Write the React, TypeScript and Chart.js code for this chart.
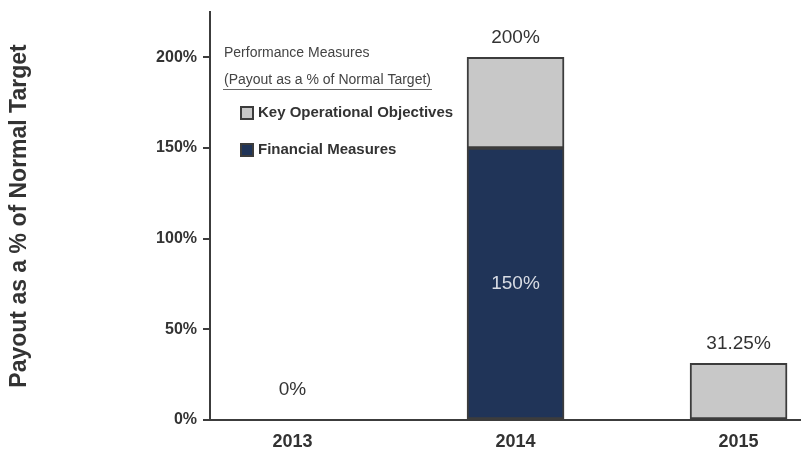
import React, { useEffect, useRef } from "react";
import { Chart, registerables } from "chart.js";

Chart.register(...registerables);

const years = ["2013", "2014", "2015"];
const financialMeasures: (number | null)[] = [null, 150, null];
const keyOperationalObjectives: (number | null)[] = [null, 50, 31.25];
const totals = [0, 200, 31.25];
const totalLabels = ["0%", "200%", "31.25%"];
const insideLabels: (string | null)[] = [null, "150%", null];
const yTicks = [0, 50, 100, 150, 200];

const FONT = "'Liberation Sans', Arial, Helvetica, sans-serif";
const GRAY_FILL = "#c8c8c8";
const NAVY_FILL = "#203458";
const EDGE = "#3c3c3c";
const TEXT = "#333333";

const overlayPlugin = {
  id: "overlay",
  afterDatasetsDraw(chart: any) {
    const ctx = chart.ctx;
    const x = chart.scales.x;
    const y = chart.scales.y;
    const area = chart.chartArea;
    ctx.save();
    // value labels
    ctx.textAlign = "center";
    ctx.textBaseline = "middle";
    ctx.font = `19px ${FONT}`;
    ctx.fillStyle = TEXT;
    totals.forEach((v, i) => {
      const px = x.getPixelForValue(i);
      const py = Math.min(y.getPixelForValue(v) - 20, area.bottom - 30);
      ctx.fillText(totalLabels[i], px, py);
    });
    ctx.fillStyle = "#d8dce4";
    insideLabels.forEach((t, i) => {
      if (!t) return;
      const v = financialMeasures[i] as number;
      const px = x.getPixelForValue(i);
      const py = (y.getPixelForValue(v) + y.getPixelForValue(0)) / 2;
      ctx.fillText(t, px, py);
    });

    // legend
    ctx.textAlign = "left";
    ctx.fillStyle = "#444";
    ctx.font = `14px ${FONT}`;
    ctx.fillText("Performance Measures", 224, 53);
    ctx.fillText("(Payout as a % of Normal Target)", 224, 80);
    const w = ctx.measureText("(Payout as a % of Normal Target)").width;
    ctx.strokeStyle = "#666";
    ctx.lineWidth = 1;
    ctx.beginPath();
    ctx.moveTo(223, 89.5);
    ctx.lineTo(224 + w + 1, 89.5);
    ctx.stroke();

    const items = [
      { label: "Key Operational Objectives", color: GRAY_FILL, y: 113 },
      { label: "Financial Measures", color: NAVY_FILL, y: 150 },
    ];
    items.forEach((it) => {
      ctx.fillStyle = it.color;
      ctx.fillRect(241, it.y - 6, 12, 12);
      ctx.strokeStyle = EDGE;
      ctx.lineWidth = 2;
      ctx.strokeRect(241, it.y - 6, 12, 12);
      ctx.fillStyle = TEXT;
      ctx.font = `bold 15px ${FONT}`;
      ctx.fillText(it.label, 258, it.y);
    });
    ctx.restore();
  },
};

export default function App() {
  const ref = useRef<HTMLCanvasElement | null>(null);

  useEffect(() => {
    if (!ref.current) return;
    const chart = new Chart(ref.current, {
      type: "bar",
      data: {
        datasets: [
          {
            label: "Financial Measures",
            data: financialMeasures.map((v, i) => ({ x: i, y: v })) as any,
            backgroundColor: NAVY_FILL,
            borderColor: EDGE,
            borderWidth: 2,
            borderSkipped: false,
            barThickness: 97,
          },
          {
            label: "Key Operational Objectives",
            data: keyOperationalObjectives.map((v, i) => ({ x: i, y: v })) as any,
            backgroundColor: GRAY_FILL,
            borderColor: EDGE,
            borderWidth: 2,
            borderSkipped: false,
            barThickness: 97,
          },
        ],
      },
      options: {
        animation: false,
        responsive: false,
        maintainAspectRatio: false,
        layout: { padding: { top: 12, left: 0, right: 0, bottom: 0 } },
        plugins: {
          legend: { display: false },
          tooltip: { enabled: false },
        },
        scales: {
          x: {
            type: "linear",
            min: -0.37,
            max: 2.28,
            stacked: true,
            offset: false,
            grid: { display: false, drawTicks: false },
            border: { display: true, color: EDGE, width: 2 },
            afterBuildTicks: (scale: any) => {
              scale.ticks = years.map((_, i) => ({ value: i }));
            },
            afterFit: (scale: any) => {
              scale.height = 46;
              scale.paddingLeft = 0;
              scale.paddingRight = 0;
              scale.paddingTop = 0;
              scale.paddingBottom = 0;
            },
            ticks: {
              padding: 11,
              color: TEXT,
              font: { family: FONT, size: 18, weight: "bold" },
              callback: (v: any) => years[v as number] ?? "",
              maxRotation: 0,
              autoSkip: false,
            },
          },
          y: {
            min: 0,
            max: 225,
            stacked: true,
            grid: {
              display: true,
              drawOnChartArea: false,
              drawTicks: true,
              tickLength: 7,
              color: EDGE,
              lineWidth: 2,
            },
            border: { display: true, color: EDGE, width: 2 },
            afterBuildTicks: (scale: any) => {
              scale.ticks = yTicks.map((v) => ({ value: v }));
            },
            afterFit: (scale: any) => {
              scale.width = 210;
              scale.paddingTop = 0;
              scale.paddingBottom = 0;
              scale.paddingLeft = 0;
              scale.paddingRight = 0;
            },
            ticks: {
              padding: 6,
              color: TEXT,
              font: { family: FONT, size: 16, weight: "bold" },
              callback: (v: any) => `${v}%`,
            },
            title: {
              display: true,
              text: "Payout as a % of Normal Target",
              color: TEXT,
              font: { family: FONT, size: 23, weight: "bold" },
              padding: { top: 6, bottom: 0 },
            },
          },
        },
      },
      plugins: [overlayPlugin],
    });
    return () => chart.destroy();
  }, []);

  return (
    <div style={{ position: "absolute", left: 0, top: 0, width: 801, height: 466, background: "#fff" }}>
      <canvas ref={ref} width={801} height={466} style={{ display: "block", width: 801, height: 466 }} />
    </div>
  );
}
